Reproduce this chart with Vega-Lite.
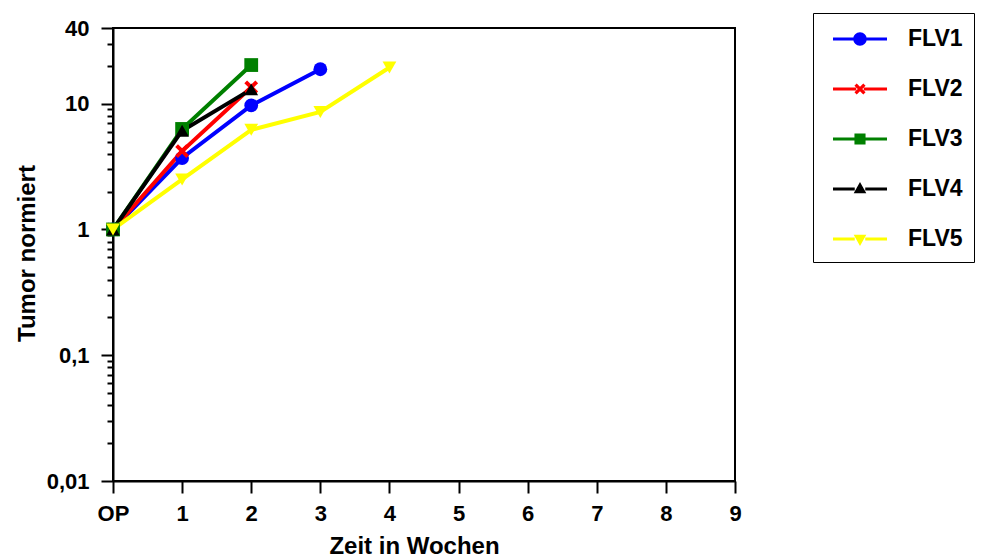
{
  "$schema": "https://vega.github.io/schema/vega-lite/v6.json",
  "autosize": {"type": "none"},
  "width": 622,
  "height": 453,
  "padding": {"left": 113, "top": 28, "right": 259, "bottom": 79},
  "background": "white",
  "config": {
    "font": "Liberation Sans",
    "view": {"stroke": "black", "strokeWidth": 2},
    "axis": {
      "grid": false,
      "domainColor": "black",
      "domainWidth": 2,
      "tickColor": "black",
      "tickWidth": 2,
      "labelColor": "black",
      "titleColor": "black",
      "labelFont": "Liberation Sans",
      "titleFont": "Liberation Sans",
      "labelFontWeight": "bold",
      "titleFontWeight": "bold",
      "labelFontSize": 22,
      "titleFontSize": 24,
      "labelFlush": false,
      "labelOverlap": false
    },
    "legend": {
      "orient": "none",
      "legendX": 700,
      "legendY": -15,
      "strokeColor": "black",
      "padding": 11,
      "symbolOffset": 21,
      "rowPadding": 23,
      "labelOffset": 33,
      "labelFont": "Liberation Sans",
      "labelFontWeight": "bold",
      "labelFontSize": 23,
      "labelColor": "black",
      "labelLimit": 300,
      "symbolStrokeWidth": 0,
      "symbolSize": 900
    }
  },
  "data": {
    "values": [
      {"serie": "FLV1", "woche": 0, "tumor": 1},
      {"serie": "FLV1", "woche": 1, "tumor": 3.7},
      {"serie": "FLV1", "woche": 2, "tumor": 9.7},
      {"serie": "FLV1", "woche": 3, "tumor": 18.8},
      {"serie": "FLV2", "woche": 0, "tumor": 1},
      {"serie": "FLV2", "woche": 1, "tumor": 4.2},
      {"serie": "FLV2", "woche": 2, "tumor": 13.5},
      {"serie": "FLV3", "woche": 0, "tumor": 1},
      {"serie": "FLV3", "woche": 1, "tumor": 6.3},
      {"serie": "FLV3", "woche": 2, "tumor": 20.3},
      {"serie": "FLV4", "woche": 0, "tumor": 1},
      {"serie": "FLV4", "woche": 1, "tumor": 6.1},
      {"serie": "FLV4", "woche": 2, "tumor": 13.0},
      {"serie": "FLV5", "woche": 0, "tumor": 1},
      {"serie": "FLV5", "woche": 1, "tumor": 2.5},
      {"serie": "FLV5", "woche": 2, "tumor": 6.2},
      {"serie": "FLV5", "woche": 3, "tumor": 8.6},
      {"serie": "FLV5", "woche": 4, "tumor": 19.4}
    ]
  },
  "encoding": {
    "x": {
      "field": "woche",
      "type": "quantitative",
      "scale": {"domain": [0, 9], "nice": false, "zero": false},
      "axis": {
        "title": "Zeit in Wochen",
        "values": [0, 1, 2, 3, 4, 5, 6, 7, 8, 9],
        "labelExpr": "datum.value == 0 ? 'OP' : datum.label",
        "tickSize": 12,
        "labelPadding": 10,
        "titlePadding": 10,
        "titleX": 301
      }
    },
    "y": {
      "field": "tumor",
      "type": "quantitative",
      "scale": {"type": "log", "domain": [0.01, 40], "nice": false},
      "axis": {
        "title": "Tumor normiert",
        "values": [0.01, 0.02, 0.03, 0.04, 0.05, 0.06, 0.07, 0.08, 0.09, 0.1, 0.2, 0.3, 0.4, 0.5, 0.6, 0.7, 0.8, 0.9, 1, 2, 3, 4, 5, 6, 7, 8, 9, 10, 20, 30, 40],
        "labelExpr": "datum.value == 0.01 ? '0,01' : datum.value == 0.1 ? '0,1' : datum.value == 1 ? '1' : datum.value == 10 ? '10' : datum.value == 40 ? '40' : ''",
        "tickSize": {"condition": {"test": "indexof([0.01, 0.1, 1, 10, 40], datum.value) >= 0", "value": 12}, "value": 6},
        "labelPadding": 12,
        "titleX": -86,
        "titleY": 225,
        "titleBaseline": "middle"
      }
    }
  },
  "resolve": {"scale": {"shape": "independent", "color": "independent"}, "legend": {"shape": "independent", "color": "independent"}},
  "layer": [
    {
      "mark": {"type": "line", "strokeWidth": 4},
      "encoding": {
        "color": {
          "field": "serie",
          "type": "nominal",
          "scale": {"domain": ["FLV1", "FLV2", "FLV3", "FLV4", "FLV5"], "range": ["#0000ff", "#ff0000", "#008000", "#000000", "#ffff00"]},
          "legend": null
        }
      }
    },
    {
      "mark": {"type": "point", "filled": true, "opacity": 1, "size": 190},
      "encoding": {
        "color": {
          "field": "serie",
          "type": "nominal",
          "scale": {"domain": ["FLV1", "FLV2", "FLV3", "FLV4", "FLV5"], "range": ["#0000ff", "#ff0000", "#008000", "#000000", "#ffff00"]},
          "legend": null
        },
        "shape": {
          "field": "serie",
          "type": "nominal",
          "scale": {"domain": ["FLV1", "FLV2", "FLV3", "FLV4", "FLV5"], "range": ["circle", "M-1,-0.6L-0.6,-1L0,-0.4L0.6,-1L1,-0.6L0.4,0L1,0.6L0.6,1L0,0.4L-0.6,1L-1,0.6L-0.4,0Z", "square", "triangle-up", "triangle-down"]},
          "legend": null
        }
      }
    },
    {
      "transform": [{"filter": "false"}],
      "mark": {"type": "point", "filled": true, "opacity": 1, "size": 900},
      "encoding": {
        "color": {
          "field": "serie",
          "type": "nominal",
          "scale": {"domain": ["FLV1", "FLV2", "FLV3", "FLV4", "FLV5"], "range": ["#0000ff", "#ff0000", "#008000", "#000000", "#ffff00"]},
          "legend": {"title": null, "encode": {"legend": {"update": {"strokeWidth": {"value": 2}}}, "symbols": {"update": {"size": {"value": 900}}}}}
        },
        "shape": {
          "field": "serie",
          "type": "nominal",
          "scale": {"domain": ["FLV1", "FLV2", "FLV3", "FLV4", "FLV5"], "range": [
            "M-1.8,-0.1H-0.35V0.1H-1.8Z M0.35,-0.1H1.8V0.1H0.35Z M0.45,0A0.45,0.45,0,1,1,-0.45,0A0.45,0.45,0,1,1,0.45,0Z",
            "M-1.8,-0.1H-0.25V0.1H-1.8Z M0.25,-0.1H1.8V0.1H0.25Z M-0.37,-0.22L-0.22,-0.37L0,-0.15L0.22,-0.37L0.37,-0.22L0.15,0L0.37,0.22L0.22,0.37L0,0.15L-0.22,0.37L-0.37,0.22L-0.15,0Z",
            "M-1.8,-0.1H-0.35V0.1H-1.8Z M0.35,-0.1H1.8V0.1H0.35Z M-0.37,-0.37H0.37V0.37H-0.37Z",
            "M-1.8,-0.1H-0.35V0.1H-1.8Z M0.35,-0.1H1.8V0.1H0.35Z M0,-0.47L0.42,0.28L-0.42,0.28Z",
            "M-1.8,-0.1H-0.35V0.1H-1.8Z M0.35,-0.1H1.8V0.1H0.35Z M0,0.47L0.42,-0.28L-0.42,-0.28Z"
          ]},
          "legend": {"title": null, "encode": {"legend": {"update": {"strokeWidth": {"value": 2}}}, "symbols": {"update": {"size": {"value": 900}}}}}
        }
      }
    }
  ]
}
